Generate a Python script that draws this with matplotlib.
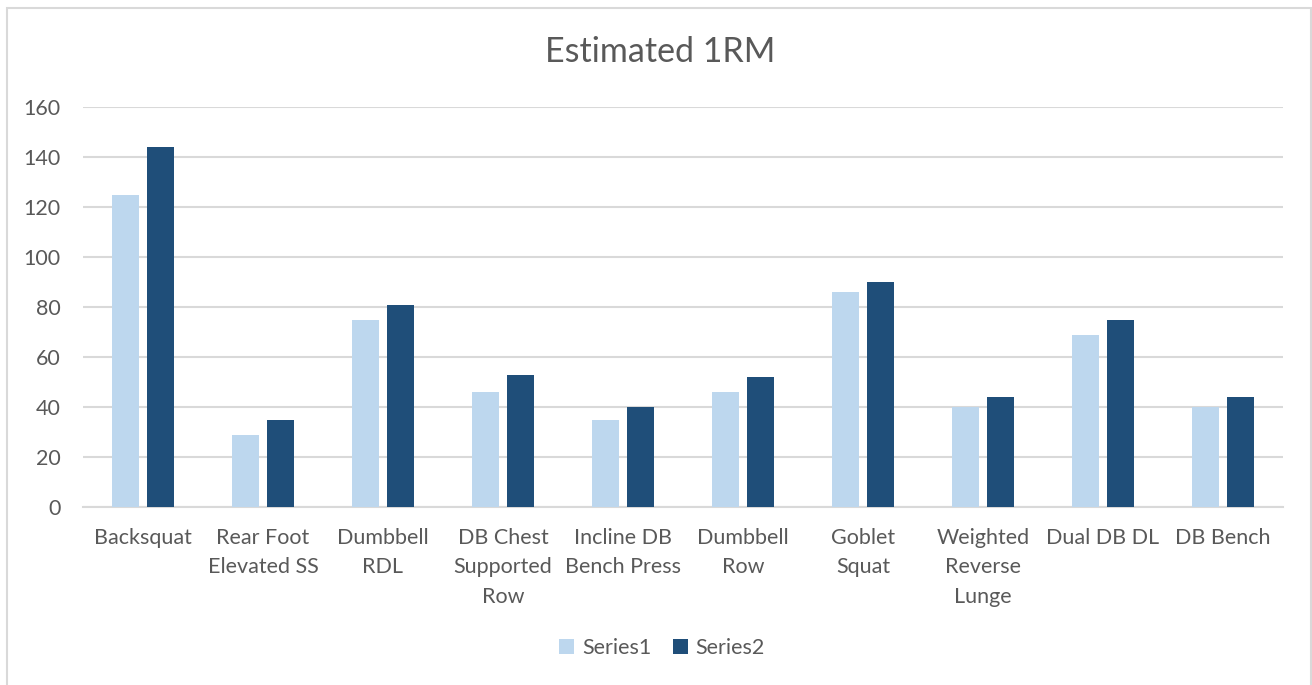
import matplotlib
matplotlib.use("Agg")
import matplotlib.pyplot as plt
import numpy as np
from matplotlib.patches import Rectangle

plt.rcParams['font.family'] = ['Lato', 'DejaVu Sans']

# exercise names, wrapped the way the axis shows them
exercises = ["Backsquat", "Rear Foot\nElevated SS", "Dumbbell\nRDL", "DB Chest\nSupported\nRow",
             "Incline DB\nBench Press", "Dumbbell\nRow", "Goblet\nSquat", "Weighted\nReverse\nLunge",
             "Dual DB DL", "DB Bench"]
series1 = [125, 29, 75, 46, 35, 46, 86, 40, 69, 40]
series2 = [144, 35, 81, 53, 40, 52, 90, 44, 75, 44]
y_ticks = [0, 20, 40, 60, 80, 100, 120, 140, 160]

grey_text = "#595959"
light_blue = "#BDD7EE"
dark_blue = "#1F4E79"

fig = plt.figure(figsize=(13.12, 6.85), dpi=100)
W, H = 1312, 685
# plot area in pixels: left 83, right 1283, top 107, bottom 507
ax = fig.add_axes([83 / W, 1 - 507 / H, 1200 / W, 400 / H])

x = np.arange(len(exercises))
offset = 0.142
width = 0.225
ax.bar(x - offset, series1, width, color=light_blue, label="Series1", zorder=3)
ax.bar(x + offset, series2, width, color=dark_blue, label="Series2", zorder=3)

ax.set_xlim(-0.5, len(exercises) - 0.5)
ax.set_ylim(0, 160)
ax.set_yticks(y_ticks)
ax.set_xticks(x)
ax.set_xticklabels(exercises, linespacing=1.6)
ax.yaxis.grid(True, color="#D9D9D9", linewidth=1.5, zorder=0)
ax.tick_params(axis="both", length=0, labelsize=15.5, labelcolor=grey_text)
ax.tick_params(axis="x", pad=15)
ax.tick_params(axis="y", pad=16)
for side in ["left", "right", "top"]:
    ax.spines[side].set_visible(False)
ax.spines["bottom"].set_color("#D9D9D9")
ax.spines["bottom"].set_linewidth(1.5)

fig.text(660 / W, 1 - 52 / H, "Estimated 1RM", ha="center", va="center",
         fontsize=24.5, color=grey_text)

fig.legend(loc="center", bbox_to_anchor=(662 / W, 1 - 648 / H), ncol=2, frameon=False,
           fontsize=15.5, labelcolor=grey_text, handlelength=0.7, handleheight=0.7,
           handletextpad=0.35, columnspacing=1.0)

# outer chart frame
fig.patches.append(Rectangle((7 / W, -0.01), 1304 / W, 1.01 - 8 / H, transform=fig.transFigure,
                             fill=False, edgecolor="#D9D9D9", linewidth=1.5))

fig.savefig("out.png", dpi=100)
